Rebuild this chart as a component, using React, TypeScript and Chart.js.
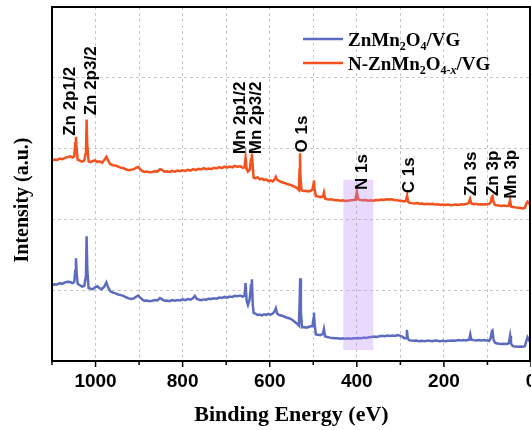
import React, { useEffect, useRef } from 'react';
import { Chart, registerables } from 'chart.js';

Chart.register(...registerables);

// XPS survey spectra: binding energy (eV) and intensity (a.u., offset traces)
const energyPristine = [
  1100, 1094, 1088, 1082, 1076, 1070, 1064, 1058, 1053, 1049, 1046.5, 1045, 1043.5, 1041, 1036, 1031, 1026, 1022, 1020.5, 1019,
  1016, 1011, 1006, 1001, 996, 991, 986, 980, 975, 971, 966, 960, 954, 948, 942, 936, 930, 924, 918, 912,
  906, 902, 898, 893, 888, 882, 876, 870, 864, 858, 852, 847, 842, 836, 830, 824, 818, 812, 806, 800,
  794, 788, 782, 776, 772, 768, 762, 757, 752, 746, 740, 734, 728, 722, 716, 710, 704, 698, 692, 686,
  680, 674, 668, 662, 658, 655.5, 653, 650, 646, 643, 641, 639, 637, 633, 628, 623, 618, 613, 608, 603,
  598, 593, 589, 586, 583, 578, 572, 566, 560, 554, 548, 542, 537, 533, 531.5, 530, 528.5, 526, 521, 516,
  511, 506, 502, 499.5, 498.5, 497, 494, 489, 484, 480, 478, 475.5, 473, 468, 462, 456, 450, 444, 438, 432,
  426, 420, 414, 408, 402, 396, 390, 384, 378, 372, 366, 360, 354, 348, 342, 336, 330, 324, 318, 312,
  306, 300, 295, 290, 287, 285, 283, 280, 275, 269, 263, 257, 251, 245, 239, 233, 227, 221, 215, 209,
  203, 197, 191, 185, 179, 173, 167, 161, 155, 149, 144, 142, 139.5, 137, 132, 126, 120, 114, 108, 102,
  96, 92.5, 90, 88.5, 86, 83, 80, 74, 68, 62, 56, 51, 48, 46, 42, 36, 30, 24, 18, 14,
  11, 8, 5, 2, 0,
];
const intensityPristine = [
  21.4, 21.7, 21.6, 22.0, 21.8, 22.2, 22.4, 22.3, 22.0, 22.3, 25.5, 29.0, 25.0, 21.8, 21.4, 21.0, 21.2, 24.0, 35.2, 26.0,
  20.6, 20.4, 20.3, 20.8, 21.1, 20.6, 20.3, 21.0, 22.2, 20.8, 19.7, 19.3, 19.1, 18.8, 18.6, 18.4, 18.0, 17.7, 17.5, 17.7,
  18.2, 18.5, 18.0, 17.4, 17.0, 17.1, 16.9, 17.0, 17.2, 17.1, 17.8, 17.4, 17.0, 17.1, 16.9, 17.2, 17.0, 17.2, 17.1, 17.4,
  17.2, 17.5, 17.3, 17.8, 18.4, 17.6, 17.3, 17.2, 17.4, 17.3, 17.6, 17.5, 17.7, 17.6, 17.9, 17.8, 18.1, 17.9, 18.2, 18.1,
  18.4, 18.3, 18.5, 18.2, 18.4, 22.0, 17.0, 15.8, 17.5, 21.5, 23.1, 16.0, 13.6, 13.4, 13.0, 13.1, 12.9, 13.2, 13.0, 13.3,
  13.1, 13.4, 14.0, 14.9, 13.4, 13.0, 12.8, 12.5, 12.2, 12.0, 11.6, 11.0, 10.5, 10.0, 16.0, 23.4, 14.0, 9.5, 9.6, 9.4,
  9.6, 9.8, 9.8, 12.0, 13.7, 10.5, 7.5, 7.4, 7.3, 7.5, 7.6, 9.0, 7.0, 6.8, 6.6, 6.5, 6.4, 6.4, 6.3, 6.4,
  6.3, 6.4, 6.3, 6.4, 6.4, 6.5, 6.4, 6.6, 6.5, 6.7, 6.8, 6.9, 6.8, 7.0, 7.1, 7.0, 7.2, 7.1, 7.2, 7.1,
  7.3, 7.1, 6.8, 6.4, 6.5, 8.8, 6.3, 5.9, 5.8, 5.7, 5.8, 5.6, 5.7, 5.6, 5.7, 5.7, 5.6, 5.8, 5.7, 5.6,
  5.7, 5.6, 5.7, 5.7, 5.8, 5.7, 5.9, 5.8, 5.9, 5.8, 6.0, 6.0, 7.5, 6.0, 5.9, 5.8, 5.9, 5.8, 5.9, 5.8,
  5.7, 6.5, 8.4, 8.6, 6.0, 5.2, 5.0, 4.9, 4.8, 4.9, 4.8, 5.0, 7.1, 5.0, 4.2, 4.1, 4.0, 4.1, 4.0, 4.2,
  5.5, 6.7, 6.0, 5.3, 5.0,
];

const energyDoped = [
  1100, 1094, 1088, 1082, 1076, 1070, 1064, 1058, 1053, 1049, 1046.5, 1045, 1043.5, 1041, 1036, 1031, 1026, 1022, 1020.5, 1019,
  1016, 1011, 1006, 1001, 996, 991, 985, 980, 975, 971, 966, 960, 954, 948, 942, 936, 930, 924, 918, 912,
  906, 902, 898, 893, 888, 882, 876, 870, 864, 858, 852, 847, 842, 836, 830, 824, 818, 812, 806, 800,
  794, 788, 782, 776, 770, 764, 758, 752, 746, 740, 734, 728, 722, 716, 710, 704, 698, 692, 686, 680,
  674, 668, 662, 658, 655.5, 653, 650, 646, 643, 641, 639, 637, 633, 628, 623, 618, 613, 608, 603, 598,
  593, 589, 586, 583, 578, 572, 566, 560, 554, 548, 542, 537, 533, 531.5, 530.5, 529.5, 527, 522, 517, 512,
  507, 502, 499.5, 498.5, 497, 494, 489, 484, 480, 478, 475.5, 473, 468, 462, 456, 450, 444, 438, 432, 426,
  420, 414, 408, 403, 400, 397, 392, 386, 380, 374, 368, 362, 356, 350, 344, 338, 332, 326, 320, 314,
  308, 302, 296, 290, 287, 284.5, 282, 279, 274, 268, 262, 256, 250, 244, 238, 232, 226, 220, 214, 208,
  202, 196, 190, 184, 178, 172, 166, 160, 154, 148, 143, 140, 137, 132, 126, 120, 114, 108, 102, 96,
  92.5, 90, 88.5, 86, 83, 79, 74, 68, 62, 56, 51, 48, 45.5, 42, 36, 30, 24, 18, 14, 11,
  8, 5, 2, 0,
];
const intensityDoped = [
  56.6, 56.9, 56.8, 57.2, 57.0, 57.4, 57.6, 57.8, 57.5, 57.9, 61.5, 63.3, 60.0, 56.9, 56.6, 56.3, 56.6, 59.0, 68.2, 61.0,
  56.4, 56.2, 56.5, 56.7, 56.2, 56.4, 56.0, 56.8, 57.7, 56.6, 55.6, 55.3, 55.2, 54.9, 54.6, 54.5, 54.1, 53.9, 54.0, 54.2,
  54.6, 54.8, 54.3, 53.7, 53.4, 53.5, 53.3, 53.4, 53.6, 53.5, 54.2, 54.0, 53.5, 53.6, 53.4, 53.7, 53.5, 53.8, 53.6, 53.9,
  53.7, 54.0, 53.8, 54.2, 53.9, 54.3, 54.1, 54.5, 54.2, 54.4, 54.2, 54.6, 54.4, 54.8, 54.5, 54.9, 54.6, 54.9, 54.7, 55.1,
  54.9, 55.0, 54.6, 54.7, 57.4, 54.2, 53.5, 54.0, 57.0, 58.6, 55.0, 51.8, 51.6, 51.9, 51.3, 51.5, 51.1, 51.3, 50.8, 51.0,
  50.7, 51.3, 52.0, 51.2, 50.8, 50.5, 50.3, 50.0, 49.8, 49.5, 49.2, 48.8, 48.3, 54.0, 58.7, 52.0, 48.2, 48.0, 48.1, 47.9,
  48.0, 48.4, 50.0, 51.0, 48.5, 46.6, 46.5, 46.3, 46.4, 46.4, 47.6, 45.9, 45.7, 45.6, 45.6, 45.4, 45.5, 45.3, 45.4, 45.2,
  45.3, 45.4, 45.5, 45.6, 47.7, 45.7, 45.5, 45.4, 45.5, 45.3, 45.4, 45.3, 45.5, 45.4, 45.6, 45.5, 45.7, 45.6, 45.7, 45.5,
  45.4, 45.3, 45.2, 45.1, 45.3, 46.7, 45.0, 44.7, 44.6, 44.5, 44.6, 44.4, 44.5, 44.3, 44.4, 44.3, 44.4, 44.2, 44.3, 44.1,
  44.2, 44.1, 44.2, 44.0, 44.1, 44.2, 44.1, 44.3, 44.2, 44.4, 44.6, 45.8, 44.5, 44.3, 44.4, 44.2, 44.3, 44.2, 44.3, 44.4,
  44.8, 46.4, 46.6, 44.9, 44.1, 44.0, 43.9, 43.8, 43.9, 43.8, 43.9, 45.4, 43.6, 43.5, 43.4, 43.3, 43.2, 43.1, 43.3, 44.4,
  45.0, 44.7, 44.0, 43.8,
];

// Core-level assignments: label text, energy of the label centre, intensity where the label starts
const peakNames = ['Zn 2p1/2', 'Zn 2p3/2', 'Mn 2p1/2', 'Mn 2p3/2', 'O 1s', 'N 1s', 'C 1s', 'Zn 3s', 'Zn 3p', 'Mn 3p'];
const peakLabelEnergy = [1057.5, 1009.3, 667.2, 630.4, 526, 388.2, 279.1, 138, 87.4, 45];
const peakLabelIntensity = [63.6, 69.4, 58.4, 58.4, 58.9, 48.3, 47.4, 46.6, 46.6, 45.8];

// N 1s window (energy span, intensity span)
const highlightEnergy = [431, 362];
const highlightIntensity = [3.1, 51.2];

const xMin = 0;
const xMax = 1100;
const xStep = 100;
const xLabelStep = 200;
const yMin = 0;
const yMax = 100;
const yStep = 20;

const BLUE = '#5c6bc0';
const ORANGE = '#f4511e';
const SERIF = '"Liberation Serif", "Times New Roman", serif';
const SANS = '"Liberation Sans", Arial, sans-serif';

type Run = [string, '' | 'sub' | 'subi'];
const legendRows: { color: string; runs: Run[] }[] = [
  { color: BLUE, runs: [['ZnMn', ''], ['2', 'sub'], ['O', ''], ['4', 'sub'], ['/VG', '']] },
  { color: ORANGE, runs: [['N-ZnMn', ''], ['2', 'sub'], ['O', ''], ['4-', 'sub'], ['x', 'subi'], ['/VG', '']] },
];

const decorPlugin = {
  id: 'decor',
  afterDatasetsDraw(chart: any) {
    const { ctx, chartArea, scales } = chart;
    const xs = scales.x;
    const ys = scales.y;
    ctx.save();
    // highlight window
    const x1 = xs.getPixelForValue(highlightEnergy[0]);
    const x2 = xs.getPixelForValue(highlightEnergy[1]);
    const y1 = ys.getPixelForValue(highlightIntensity[1]);
    const y2 = ys.getPixelForValue(highlightIntensity[0]);
    ctx.fillStyle = 'rgba(180, 130, 250, 0.3)';
    ctx.fillRect(Math.min(x1, x2), y1, Math.abs(x2 - x1), y2 - y1);

    // peak labels
    ctx.fillStyle = '#000';
    ctx.font = `bold 17px ${SANS}`;
    ctx.textAlign = 'left';
    ctx.textBaseline = 'middle';
    peakNames.forEach((name, i) => {
      const px = xs.getPixelForValue(peakLabelEnergy[i]);
      const py = ys.getPixelForValue(peakLabelIntensity[i]);
      ctx.save();
      ctx.translate(px, py);
      ctx.rotate(-Math.PI / 2);
      ctx.fillText(name, 0, 0);
      ctx.restore();
    });

    // frame
    ctx.strokeStyle = '#000';
    ctx.lineWidth = 2;
    ctx.strokeRect(chartArea.left, chartArea.top, chartArea.right - chartArea.left - 1, chartArea.bottom - chartArea.top);

    // tick marks on the energy axis
    ctx.lineWidth = 1.5;
    xs.ticks.forEach((t: any) => {
      const px = xs.getPixelForValue(t.value);
      const len = t.value % xLabelStep === 0 ? 6 : 4;
      ctx.beginPath();
      ctx.moveTo(px, chartArea.bottom);
      ctx.lineTo(px, chartArea.bottom + len);
      ctx.stroke();
    });
    ctx.restore();
  },
  afterDraw(chart: any) {
    const { ctx, chartArea } = chart;
    ctx.save();
    // y-axis title
    ctx.fillStyle = '#000';
    ctx.font = `bold 20px ${SERIF}`;
    ctx.textAlign = 'center';
    ctx.textBaseline = 'middle';
    ctx.translate(22.5, (chartArea.top + chartArea.bottom) / 2 + 16);
    ctx.rotate(-Math.PI / 2);
    ctx.fillText('Intensity (a.u.)', 0, 0);
    ctx.restore();

    // legend
    ctx.save();
    const lineX0 = 303;
    const lineX1 = 343;
    const textX = 348;
    const rowY = [39, 63];
    legendRows.forEach((row, r) => {
      const y = rowY[r];
      ctx.strokeStyle = row.color;
      ctx.lineWidth = 2.5;
      ctx.beginPath();
      ctx.moveTo(lineX0, y);
      ctx.lineTo(lineX1, y);
      ctx.stroke();
      let x = textX;
      const base = y + 6.5;
      ctx.fillStyle = '#000';
      ctx.textAlign = 'left';
      ctx.textBaseline = 'alphabetic';
      row.runs.forEach(([text, kind]) => {
        if (kind === '') {
          ctx.font = `bold 19px ${SERIF}`;
          ctx.fillText(text, x, base);
        } else {
          ctx.font = kind === 'subi' ? `italic bold 12px ${SERIF}` : `bold 12px ${SERIF}`;
          ctx.fillText(text, x, base + 4);
        }
        x += ctx.measureText(text).width;
      });
    });
    ctx.restore();
  },
};

export default function App() {
  const canvasRef = useRef<HTMLCanvasElement | null>(null);

  useEffect(() => {
    document.body.style.margin = '0';
    const canvas = canvasRef.current;
    if (!canvas) return;
    const toPoints = (xs: number[], ys: number[]) => xs.map((x, i) => ({ x, y: ys[i] }));
    const gridColor = '#c8c8c8';

    const chart = new Chart(canvas, {
      type: 'line',
      data: {
        datasets: [
          {
            label: 'ZnMn2O4/VG',
            data: toPoints(energyPristine, intensityPristine),
            borderColor: BLUE,
            borderWidth: 2.5,
            pointRadius: 0,
            tension: 0,
            fill: false,
          },
          {
            label: 'N-ZnMn2O4-x/VG',
            data: toPoints(energyDoped, intensityDoped),
            borderColor: ORANGE,
            borderWidth: 2.5,
            pointRadius: 0,
            tension: 0,
            fill: false,
          },
        ],
      },
      options: {
        animation: false,
        responsive: true,
        maintainAspectRatio: false,
        devicePixelRatio: 1,
        layout: { padding: { left: 52, top: 7, right: 0, bottom: 0 } },
        plugins: {
          legend: { display: false },
          tooltip: { enabled: false },
        },
        scales: {
          x: {
            type: 'linear',
            reverse: true,
            min: xMin,
            max: xMax,
            afterFit: (s: any) => {
              s.paddingRight = 0;
              s.paddingLeft = 0;
            },
            ticks: {
              stepSize: xStep,
              autoSkip: false,
              maxRotation: 0,
              minRotation: 0,
              padding: 9,
              color: '#000',
              font: { family: SANS, size: 19, weight: 'bold' },
              callback: (v: any) => (Number(v) % xLabelStep === 0 ? String(v) : ''),
            },
            grid: {
              drawTicks: false,
              lineWidth: 1,
              color: (c: any) => (c.tick && (c.tick.value === xMin || c.tick.value === xMax) ? 'rgba(0,0,0,0)' : gridColor),
            },
            border: { display: false, dash: [3, 3] },
            title: {
              display: true,
              text: 'Binding Energy (eV)',
              color: '#000',
              font: { family: SERIF, size: 22, weight: 'bold' },
              padding: { top: 0, bottom: 1.8 },
            },
          },
          y: {
            min: yMin,
            max: yMax,
            ticks: { display: false, stepSize: yStep },
            grid: {
              drawTicks: false,
              lineWidth: 1,
              color: (c: any) => (c.tick && (c.tick.value === yMin || c.tick.value === yMax) ? 'rgba(0,0,0,0)' : gridColor),
            },
            border: { display: false, dash: [3, 3] },
          },
        },
      },
      plugins: [decorPlugin],
    });
    return () => chart.destroy();
  }, []);

  return (
    <div style={{ position: 'relative', width: 531, height: 430, background: '#fff' }}>
      <canvas ref={canvasRef} />
    </div>
  );
}
